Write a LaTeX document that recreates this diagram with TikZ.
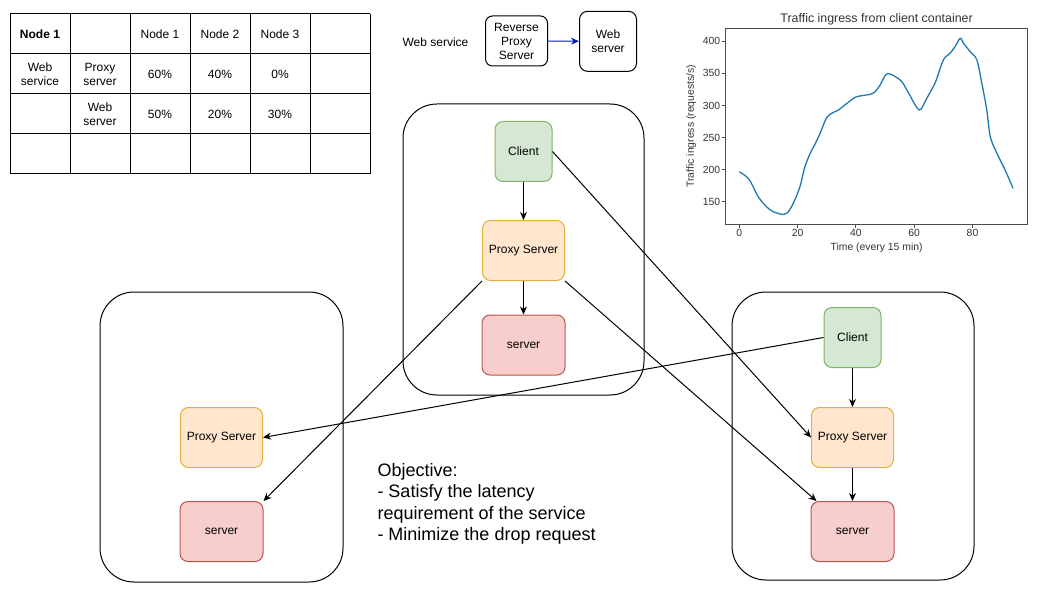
\documentclass[tikz,border=0pt]{standalone}
\usepackage{fontspec}
\setmainfont{Liberation Sans}
\usetikzlibrary{arrows.meta, positioning}
\definecolor{clientfill}{HTML}{D5E8D4}
\definecolor{clientline}{HTML}{82B366}
\definecolor{proxyfill}{HTML}{FFE6CC}
\definecolor{proxyline}{HTML}{E0B040}
\definecolor{serverfill}{HTML}{F8CECC}
\definecolor{serverline}{HTML}{B85450}
\definecolor{linkblue}{HTML}{001DBC}
\definecolor{plotblue}{HTML}{1F77B4}
\tikzset{
>={Stealth[length=8pt, width=7pt, inset=2.5pt]}, % draw.io like heads
box/.style={draw, rounded corners=8pt, minimum height=60pt, align=center, font=\fontsize{12}{14}\selectfont},
client/.style={box, fill=clientfill, draw=clientline, minimum width=57pt},
proxy/.style={box, fill=proxyfill, draw=proxyline, minimum width=82pt},
server/.style={box, fill=serverfill, draw=serverline, minimum width=83pt},
host/.style={draw, rounded corners=34pt},
link/.style={->},
cell/.style={align=center, font=\fontsize{12}{14}\selectfont},
tick/.style={font=\fontsize{10.4}{12}\selectfont, text=black!80, inner sep=1.5pt},
axisline/.style={draw=black!70, line width=1pt},
}
\begin{document}
\begin{tikzpicture}[x=1pt, y=-1pt, line width=1pt]
  \useasboundingbox (0,0) rectangle (1059,596);

  % allocation table
  \foreach \x in {10,70,...,370} \draw (\x,14) -- (\x,174);
  \foreach \y in {14,54,...,174} \draw (10,\y) -- (370,\y);
  \node[cell, font=\fontsize{12}{14}\selectfont\bfseries] (h1) at (40,34) {Node 1};
  \node[cell] (h3) at (160,34) {Node 1};
  \node[cell] (h4) at (220,34) {Node 2};
  \node[cell] (h5) at (280,34) {Node 3};
  \node[cell] (r21) at (40,74) {Web\\service};
  \node[cell] (r22) at (100,74) {Proxy\\server};
  \node[cell] (r23) at (160,74) {60\%};
  \node[cell] (r24) at (220,74) {40\%};
  \node[cell] (r25) at (280,74) {0\%};
  \node[cell] (r32) at (100,114) {Web\\server};
  \node[cell] (r33) at (160,114) {50\%};
  \node[cell] (r34) at (220,114) {20\%};
  \node[cell] (r35) at (280,114) {30\%};

  % legend of the service
  \node[cell] (ws) at (435.5,42) {Web service};
  \node[box, rounded corners=7pt, minimum width=62pt, minimum height=50pt, inner sep=1pt] (rp) at (516.5,41) {Reverse\\Proxy\\Server};
  \node[box, minimum width=57pt] (wsv) at (608,41.3) {Web\\server};
  \draw[link, draw=linkblue] (rp) -- (wsv);

  % traffic plot
  \begin{scope}[shift={(739.3,298.1)}, x=2.915pt, y=0.642pt]
    \draw[axisline] (-4.7,115.4) rectangle (98.9,420.2);
    \foreach \t in {0,20,...,80}
      \draw[axisline] (\t,115.4) -- ++(0,-5.5) node[tick, below] (xt\t) {\t};
    \foreach \v in {150,200,...,400}
      \draw[axisline] (-4.7,\v) -- ++(-1.2,0) node[tick, left] (yt\v) {\v};
    \node[tick, font=\fontsize{12.4}{14}\selectfont] (title) at (47.1,434.7) {Traffic ingress from client container};
    \node[tick] (xlab) at (47.1,79.1) {Time (every 15 min)};
    \node[tick, rotate=90] (ylab) at (-16.5,267.8) {Traffic ingress (requests/s)};
    \draw[plotblue, line width=1.3pt] plot[smooth, tension=0.5] coordinates {
      (0,196.8) (3.3,185.3) (6.5,157.8) (9.4,142) (11.7,134.4) (15.1,130.2)
      (16.5,132.8) (18.5,147.4) (20.8,173.4) (22.5,204.6) (24.3,225.3) (26,240)
      (27.7,256.5) (30,281.5) (32.3,289.3) (34,293) (36.9,303.3) (39.7,312.7)
      (42,315.3) (44.9,317.4) (46.6,321.5) (48.3,331.9) (50.8,349.6) (55.2,339.7)
      (57.5,324.1) (59.7,305.9) (61.2,295) (62.3,294) (64.3,311.1) (67.2,335.5)
      (70,370.9) (72.3,381.3) (74,391.7) (75.8,404.7) (76.9,396.9) (79.2,383.9)
      (81.5,370.9) (83.2,334.5) (84.9,293) (86.1,251.3) (88.4,225.3) (91.2,199.4)
      (93.9,170.8)};
  \end{scope}

  % hosts
  \draw[host] (403,104) rectangle (644,395);
  \draw[host] (100,292) rectangle (343,582);
  \draw[host] (732,292) rectangle (974,580);

  \node[client] (cM) at (523.5,151.5) {Client};
  \node[proxy] (pM) at (523.5,250.5) {Proxy Server};
  \node[server] (sM) at (523.5,345) {server};

  \node[proxy] (pL) at (221.5,437.5) {Proxy Server};
  \node[server] (sL) at (221.5,531.5) {server};

  \node[client] (cR) at (852.5,337.5) {Client};
  \node[proxy] (pR) at (852.5,437.5) {Proxy Server};
  \node[server] (sR) at (852.5,531.5) {server};

  \draw[link] (cM) -- (pM);
  \draw[link] (pM) -- (sM);
  \draw[link] (cR) -- (pR);
  \draw[link] (pR) -- (sR);
  \draw[link] (cM.east) -- (pR.west);
  \draw[link] (pM.south west) -- (sL.north east);
  \draw[link] (pM.south east) -- ([xshift=6pt]sR.north west);
  \draw[link] (cR.west) -- (pL.east);

  \node[anchor=north west, inner sep=0pt, align=left, font=\fontsize{18}{21.6}\selectfont] (goal) at (377,462.5)
    {Objective:\\- Satisfy the latency\\requirement of the service\\- Minimize the drop request};
\end{tikzpicture}
\end{document}
